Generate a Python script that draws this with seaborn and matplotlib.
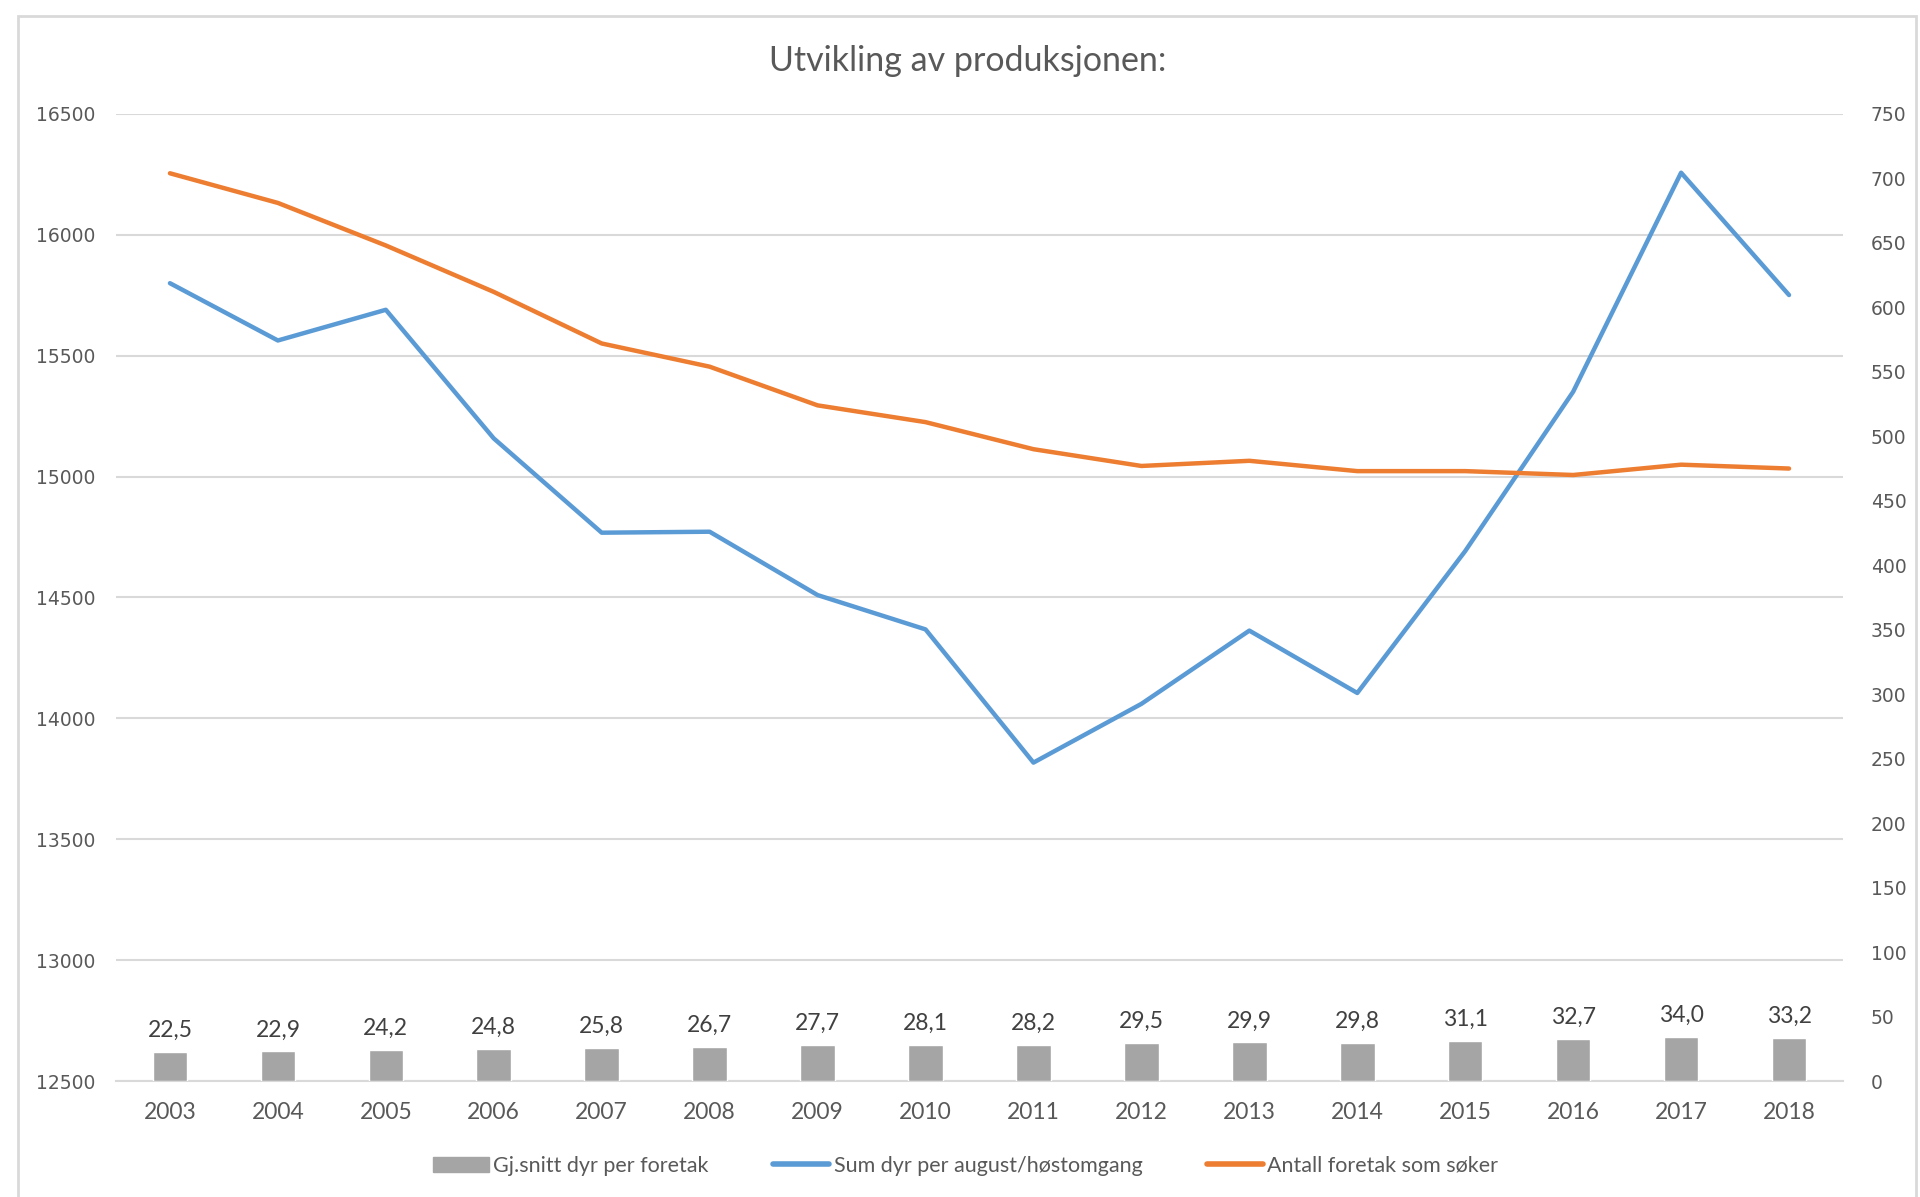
import numpy as np
import pandas as pd
import matplotlib.pyplot as plt
import matplotlib.patches as mpatches
from matplotlib.lines import Line2D
import seaborn as sns

# data
years = [2003, 2004, 2005, 2006, 2007, 2008, 2009, 2010,
         2011, 2012, 2013, 2014, 2015, 2016, 2017, 2018]
snitt_dyr = [22.5, 22.9, 24.2, 24.8, 25.8, 26.7, 27.7, 28.1,
             28.2, 29.5, 29.9, 29.8, 31.1, 32.7, 34.0, 33.2]
sum_dyr = [15800, 15563, 15690, 15158, 14768, 14772, 14510, 14368,
           13817, 14060, 14363, 14105, 14692, 15351, 16257, 15751]
antall_foretak = [704, 681, 648, 612, 572, 554, 524, 511,
                  490, 477, 481, 473, 473, 470, 478, 475]

df = pd.DataFrame({"År": years, "snitt": snitt_dyr,
                   "sum": sum_dyr, "antall": antall_foretak})

sns.set_theme(style="white")
plt.rcParams['font.family'] = ['Lato', 'DejaVu Sans']

grey_txt = "#595959"
c_bar = "#a5a5a5"
c_blue = "#5b9bd5"
c_orange = "#ed7d31"
c_grid = "#d9d9d9"

fig = plt.figure(figsize=(19.2, 11.97), dpi=100)
ax = fig.add_axes([0.0604, 0.0969, 0.8995, 0.8079])
ax2 = ax.twinx()

# frame round the whole chart
fig.patches.append(mpatches.Rectangle((18 / 1920, -0.01), 1898 / 1920, 1 - 16 / 1197 + 0.01,
                                      transform=fig.transFigure, fill=False,
                                      edgecolor="#d9d9d9", linewidth=2))

# left axis: sum dyr
sns.lineplot(data=df, x="År", y="sum", ax=ax, color=c_blue, linewidth=3.2,
             solid_capstyle="round", zorder=3)
ax.set_ylim(12500, 16500)
ax.set_yticks(np.arange(12500, 16501, 500))
ax.yaxis.grid(True, color=c_grid, linewidth=1.5)
ax.set_axisbelow(True)

# right axis: bars + antall foretak
sns.barplot(data=df, x="År", y="snitt", ax=ax2, color=c_bar, width=0.32,
            native_scale=True, saturation=1, zorder=2)
sns.lineplot(data=df, x="År", y="antall", ax=ax2, color=c_orange, linewidth=3.2,
             solid_capstyle="round", zorder=4)
ax2.set_ylim(0, 750)
ax2.set_yticks(np.arange(0, 751, 50))
ax2.bar_label(ax2.containers[0], labels=[f"{v:.1f}".replace(".", ",") for v in snitt_dyr],
              padding=8, fontsize=16.5, color="#404040")

ax.set_xlim(2002.5, 2018.5)
ax.set_xticks(years)
ax.set_xticklabels([str(y) for y in years], fontsize=16.5, color=grey_txt)
for a in (ax, ax2):
    a.set_xlabel("")
    a.set_ylabel("")
    for s in a.spines.values():
        s.set_visible(False)
    a.tick_params(length=0)
ax.spines["bottom"].set_visible(True)
ax.spines["bottom"].set_color(c_grid)
ax.spines["bottom"].set_linewidth(1.5)
ax.tick_params(axis="x", pad=15)
ax.tick_params(axis="y", pad=15)
ax2.tick_params(axis="y", pad=20)
for lab in ax.get_yticklabels() + ax2.get_yticklabels():
    lab.set_fontfamily("DejaVu Sans")
    lab.set_fontsize(13.5)
    lab.set_color(grey_txt)

fig.text(0.504, 0.949, "Utvikling av produksjonen:", ha="center", va="center",
         fontsize=24.5, color=grey_txt)

handles = [mpatches.Patch(color=c_bar),
           Line2D([], [], color=c_blue, linewidth=4, solid_capstyle="round"),
           Line2D([], [], color=c_orange, linewidth=4, solid_capstyle="round")]
names = ["Gj.snitt dyr per foretak", "Sum dyr per august/høstomgang",
         "Antall foretak som søker"]
fig.legend(handles, names, loc="center", bbox_to_anchor=(0.503, 0.026), ncol=3,
           frameon=False, fontsize=15.5, labelcolor=grey_txt, handlelength=2.6,
           handletextpad=0.2, columnspacing=3.0)

fig.savefig("out.png", dpi=100)
